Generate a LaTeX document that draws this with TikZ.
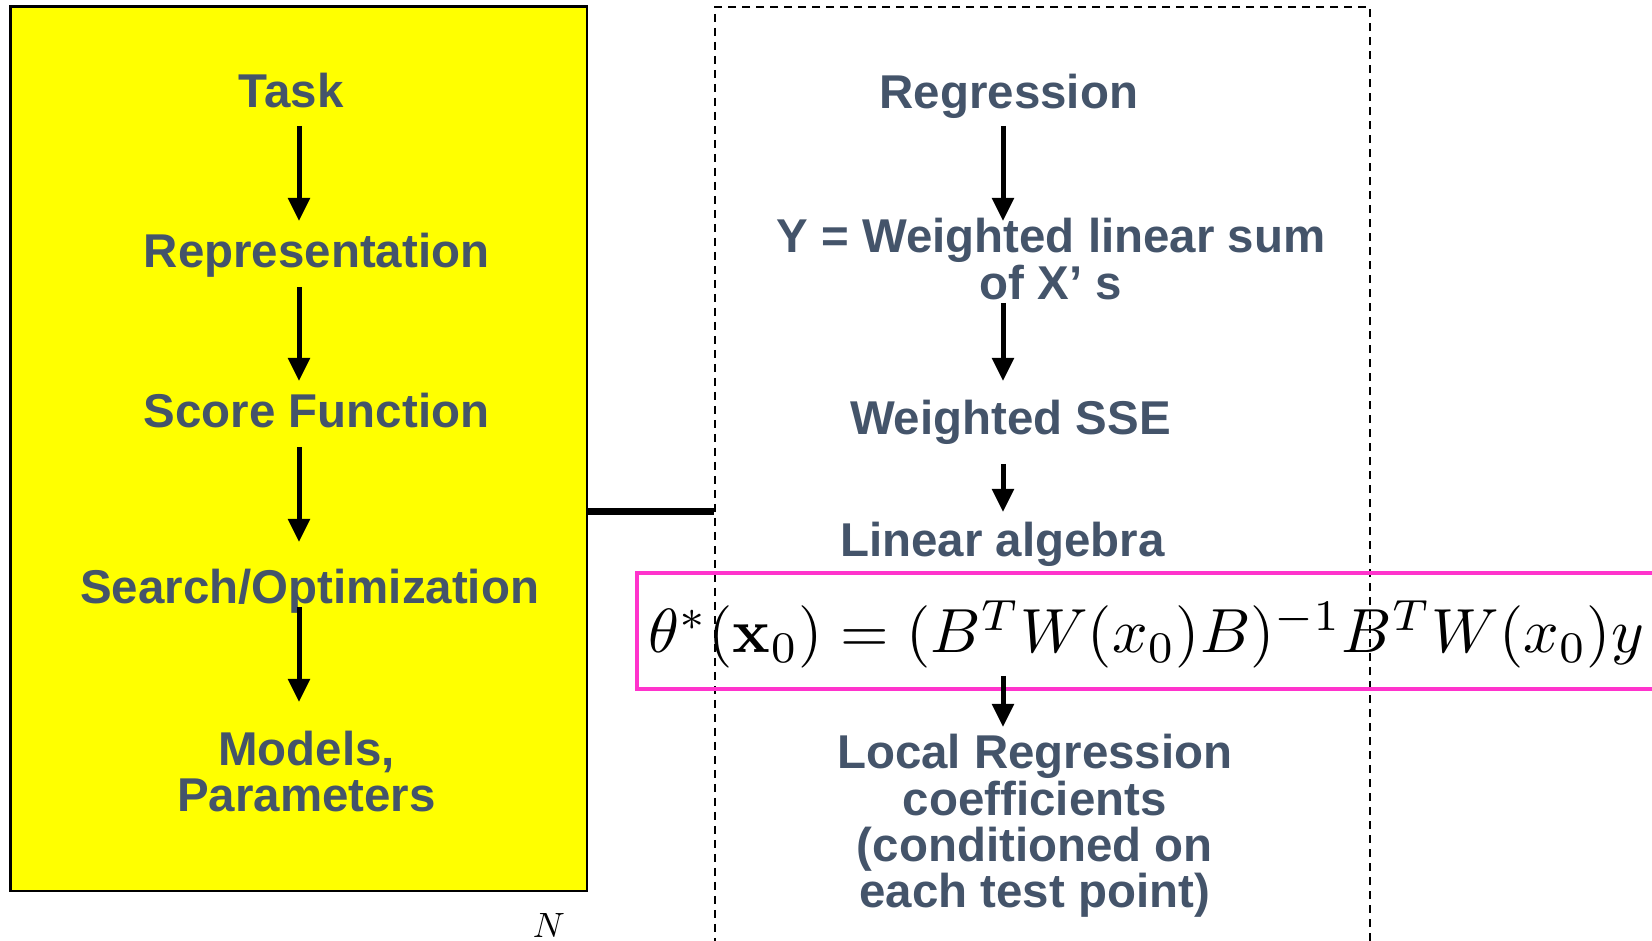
\documentclass[tikz,border=0pt]{standalone}
\usepackage[no-math]{fontspec}
\setmainfont{Liberation Sans}
\usetikzlibrary{arrows.meta}
\definecolor{slate}{HTML}{44546A}
\definecolor{pinkframe}{HTML}{FF33CC}
\definecolor{boxyellow}{HTML}{FFFF00}

\begin{document}
\begin{tikzpicture}[
        x=0.1mm, y=-0.1mm,
        txt/.style={inner sep=0pt, anchor=base, align=center, text=slate, font=\fontsize{13.5}{13.2}\selectfont\bfseries},
        taskbox/.style={draw, fill=boxyellow, line width=0.25mm, inner sep=0pt},
        regrbox/.style={draw, dash pattern=on 0.8mm off 0.6mm, line width=0.15mm, inner sep=0pt},
        formbox/.style={draw=pinkframe, line width=0.45mm, inner sep=0pt},
        arrow/.style={-{Triangle[length=2.3mm, width=2.1mm]}, line width=0.5mm},
        link/.style={line width=0.7mm}
    ]
    \useasboundingbox (0,0) rectangle (1652,941);
    \clip (0,0) rectangle (1652,941);

    % frames
    \node[taskbox, minimum width=57.65mm, minimum height=88.45mm] (TaskBox) at (298.75,448.75) {};
    \node[regrbox, minimum width=65.5mm, minimum height=99.3mm] (RegrBox) at (1042.5,503.5) {};
    \node[formbox, minimum width=106.3mm, minimum height=11.6mm] (FormBox) at (1168.5,631) {};

    % left column (multi-line nodes sit on their last line)
    \node[txt] (Task) at (291.3,108) {Task};
    \node[txt] (Repr) at (316.6,267.6) {Representation};
    \node[txt] (Score) at (316.6,427.8) {Score Function};
    \node[txt] (Search) at (309.7,603.7) {Search/Optimization};
    \node[txt] (Models) at (306.6,812) {Models,\\Parameters};
    \node[inner sep=0pt, anchor=base, font=\fontsize{9.6}{11}\selectfont] (Nsym) at (549,938) {$N$};

    % right column
    \node[txt] (Regr) at (1008.8,108.5) {Regression};
    \node[txt] (Wsum) at (1051,299.2) {Y = Weighted linear sum\\of X’ s};
    \node[txt] (Wsse) at (1010.4,435) {Weighted SSE};
    \node[txt] (LinAlg) at (1002.5,556.3) {Linear algebra};
    \node[inner sep=0pt, anchor=base] (Formula) at (1146.5,653)
        {\resizebox{99.5mm}{!}{$\theta^{*}(\mathbf{x}_{0})=(B^{T}W(x_{0})B)^{-1}B^{T}W(x_{0})y$}};
    \node[txt] (Local) at (1034.8,908) {Local Regression\\coefficients\\(conditioned on\\each test point)};

    \coordinate (colL) at (299,0);
    \coordinate (colR) at (1003,0);
    \coordinate (linkY) at (650,511.5);

    \draw[arrow, shorten <=1.8mm, shorten >=4.66mm] (Task.base -| colL) -- (Repr.base -| colL);
    \draw[arrow, shorten <=1.94mm, shorten >=4.68mm] (Repr.base -| colL) -- (Score.base -| colL);
    \draw[arrow, shorten <=1.92mm, shorten >=6.17mm] (Score.base -| colL) -- (Search.base -| colL);
    \draw[arrow, shorten <=0.33mm, shorten >=11mm] (Search.base -| colL) -- (Models.base -| colL);

    \draw[arrow, shorten <=1.75mm, shorten >=7.82mm] (Regr.base -| colR) -- (Wsum.base -| colR);
    \draw[arrow, shorten <=0.38mm, shorten >=5.4mm] (Wsum.base -| colR) -- (Wsse.base -| colR);
    \draw[arrow, shorten <=2.9mm, shorten >=4.43mm] (Wsse.base -| colR) -- (LinAlg.base -| colR);
    \draw[arrow, shorten <=2.3mm, shorten >=18.1mm] (Formula.base -| colR) -- (Local.base -| colR);

    \draw[link] (linkY -| TaskBox.east) -- (linkY -| RegrBox.west);
\end{tikzpicture}
\end{document}
